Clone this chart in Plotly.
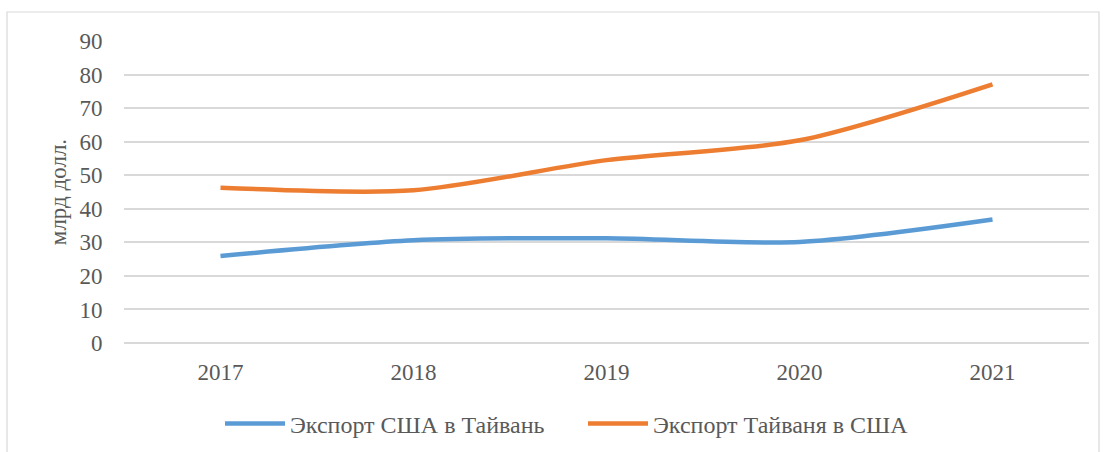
import plotly.graph_objects as go

years = ["2017", "2018", "2019", "2020", "2021"]
us_to_taiwan = [25.9, 30.6, 31.2, 30.1, 36.8]
taiwan_to_us = [46.3, 45.5, 54.5, 60.4, 77.1]
series_names = ["Экспорт США в Тайвань", "Экспорт Тайваня в США"]
y_ticks = [0, 10, 20, 30, 40, 50, 60, 70, 80, 90]

font_family = "Liberation Serif"
text_color = "#595959"
fs = 23

fig = go.Figure()
fig.add_trace(go.Scatter(x=years, y=us_to_taiwan, name=series_names[0], mode="lines",
                         line=dict(color="#5B9BD5", width=4.5, shape="spline", smoothing=0.8)))
fig.add_trace(go.Scatter(x=years, y=taiwan_to_us, name=series_names[1], mode="lines",
                         line=dict(color="#ED7D31", width=4.5, shape="spline", smoothing=0.8)))

fig.update_layout(
    width=1104, height=452,
    margin=dict(l=124, r=15, t=41, b=109, autoexpand=False),
    paper_bgcolor="white", plot_bgcolor="white",
    font=dict(family=font_family, size=fs, color=text_color),
    showlegend=True,
    legend=dict(orientation="h", x=(220 - 124) / 965, xanchor="left", y=-0.268, yanchor="middle",
                font=dict(family=font_family, size=24, color=text_color), itemwidth=60,
                entrywidth=288, entrywidthmode="pixels"),
    shapes=[dict(type="rect", xref="paper", yref="paper",
                 x0=(7 - 124) / 965, x1=(1099 - 124) / 965,
                 y0=(343 - 460) / 302, y1=(343 - 12) / 302,
                 line=dict(color="#D9D9D9", width=1.2), fillcolor="rgba(0,0,0,0)", layer="below")],
)
fig.update_xaxes(type="category", range=[-0.5, 4.5], showgrid=False, zeroline=False,
                 showline=False, ticks="outside", ticklen=8, tickcolor="rgba(0,0,0,0)",
                 automargin=False,
                 tickfont=dict(family=font_family, size=fs, color=text_color))
fig.update_yaxes(range=[0, 90], tickvals=y_ticks, showgrid=True, gridcolor="#D9D9D9", gridwidth=1.5,
                 zeroline=True, zerolinecolor="#D9D9D9", zerolinewidth=1.5, showline=False,
                 ticks="outside", ticklen=16, tickcolor="rgba(0,0,0,0)", automargin=False,
                 tickfont=dict(family=font_family, size=fs, color=text_color),
                 title=dict(text="млрд долл.", font=dict(family=font_family, size=fs, color=text_color),
                            standoff=6))

fig.write_html("out.html", config={"displayModeBar": False},
               post_script="document.body.style.margin='0';document.body.style.overflow='hidden';")
